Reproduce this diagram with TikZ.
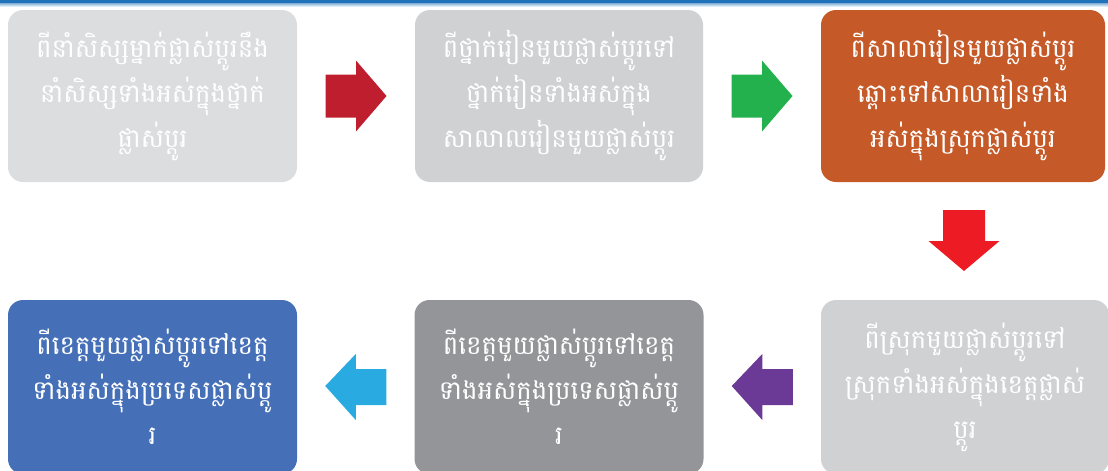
\documentclass[tikz,border=0pt]{standalone}
\usepackage{fontspec}
\newfontfamily\khmer[Script=Khmer]{Battambang}
\usetikzlibrary{calc}
\definecolor{cBoxA}{HTML}{DCDDDF}
\definecolor{cBoxB}{HTML}{D0D1D3}
\definecolor{cOrange}{HTML}{C55A28}
\definecolor{cDark}{HTML}{939598}
\definecolor{cBlue}{HTML}{4570B8}
\definecolor{cRed}{HTML}{BE1E2D}
\definecolor{cGreen}{HTML}{22B14C}
\definecolor{cRedB}{HTML}{ED1C24}
\definecolor{cPurple}{HTML}{6B3996}
\definecolor{cCyan}{HTML}{29ABE2}
\definecolor{cTop}{HTML}{1F72BA}
\tikzset{
  box/.style={rectangle, rounded corners=15pt, inner sep=0pt, text=white,
    align=center, font=\khmer\fontsize{26}{45}\selectfont},
}
\begin{document}
\begin{tikzpicture}[x=1pt,y=-1pt]
\useasboundingbox (0,0) rectangle (1108,471);
\shade[top color=cTop, bottom color=white] (0,0) rectangle (1108,7);
\fill[cTop] (0,0) rectangle (1108,3);
% boxes
\node[box, fill=cBoxA, minimum width=289pt, minimum height=172pt] (b1) at (152.5,96)
  {ពីនាំសិស្សម្នាក់ផ្លាស់ប្តូរនឹង\\នាំសិស្សទាំងអស់ក្នុងថ្នាក់\\ផ្លាស់ប្តូរ};
\node[box, fill=cBoxB, minimum width=288pt, minimum height=172pt] (b2) at (559,96)
  {ពីថ្នាក់រៀនមួយផ្លាស់ប្តូរទៅ\\ថ្នាក់រៀនទាំងអស់ក្នុង\\សាលាលរៀនមួយផ្លាស់ប្តូរ};
\node[box, fill=cOrange, minimum width=284pt, minimum height=172pt] (b3) at (963,96)
  {ពីសាលារៀនមួយផ្លាស់ប្តូរ\\ឆ្ពោះទៅសាលារៀនទាំង\\អស់ក្នុងស្រុកផ្លាស់ប្តូរ};
\node[box, fill=cBoxB, minimum width=288pt, minimum height=174pt] (b4) at (965,387)
  {ពីស្រុកមួយផ្លាស់ប្តូរទៅ\\ស្រុកទាំងអស់ក្នុងខេត្តផ្លាស់\\ប្តូរ};
\node[box, fill=cDark, minimum width=289pt, minimum height=174pt] (b5) at (559,387)
  {ពីខេត្តមួយផ្លាស់ប្តូរទៅខេត្ត\\ទាំងអស់ក្នុងប្រទេសផ្លាស់ប្តូ\\រ};
\node[box, fill=cBlue, minimum width=289pt, minimum height=174pt] (b6) at (152.5,387)
  {ពីខេត្តមួយផ្លាស់ប្តូរទៅខេត្ត\\ទាំងអស់ក្នុងប្រទេសផ្លាស់ប្តូ\\រ};
% arrow anchors
\coordinate (a1) at ($(b1.east)!0.5!(b2.west)$);
\coordinate (a2) at ($(b2.east)!0.5!(b3.west)$);
\coordinate (a3) at ($(b3.south)!0.5!(b4.north)$);
\coordinate (a4) at ($(b4.west)!0.5!(b5.east)$);
\coordinate (a5) at ($(b5.west)!0.5!(b6.east)$);
% right arrows
\foreach \c/\col in {a1/cRed, a2/cGreen}{
  \fill[\col] ($(\c)+(-30.5,-21.5)$) -- ($(\c)+(0,-21.5)$) -- ($(\c)+(0,-35.5)$)
    -- ($(\c)+(30.5,0)$) -- ($(\c)+(0,35.5)$) -- ($(\c)+(0,21.5)$)
    -- ($(\c)+(-30.5,21.5)$) -- cycle;
}
% down arrow
\fill[cRedB] ($(a3)+(-21,-31)$) -- ($(a3)+(21,-31)$) -- ($(a3)+(21,0)$)
  -- ($(a3)+(35.5,0)$) -- ($(a3)+(0,30)$) -- ($(a3)+(-35.5,0)$)
  -- ($(a3)+(-21,0)$) -- cycle;
% left arrows
\foreach \c/\col in {a4/cPurple, a5/cCyan}{
  \fill[\col] ($(\c)+(30.5,-18)$) -- ($(\c)+(0,-18)$) -- ($(\c)+(0,-33)$)
    -- ($(\c)+(-30.5,-1)$) -- ($(\c)+(0,33)$) -- ($(\c)+(0,18)$)
    -- ($(\c)+(30.5,18)$) -- cycle;
}
\end{tikzpicture}
\end{document}
